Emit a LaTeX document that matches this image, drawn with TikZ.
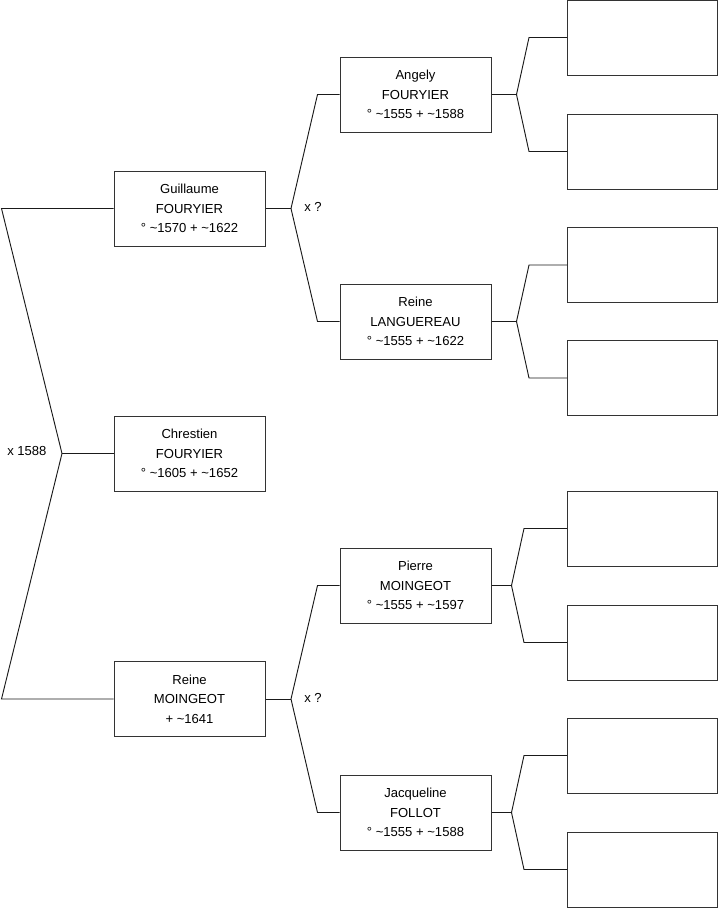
\documentclass[tikz,border=0pt]{standalone}
\usepackage{fontspec}
\setmainfont{Liberation Sans}
\usepackage{xcolor}
\usepackage{tikz}
\usetikzlibrary{positioning, calc}
\definecolor{ftLine}{HTML}{1A1A1A}
\definecolor{ftBox}{HTML}{333333}
\newcommand{\ca}{\textasciitilde}
\tikzset{
  person/.style={
    rectangle,
    draw=ftBox, line width=0.75pt,
    fill=white,
    inner sep=2pt,
    minimum width=113.25pt, minimum height=56.25pt,
    align=center,
    font=\fontsize{9.8}{14.6}\selectfont
  },
  emptybox/.style={
    person, minimum width=112.5pt
  },
  link/.style={
    ftLine, line width=0.7pt, line join=miter
  },
  union/.style={font=\fontsize{9.8}{11}\selectfont, inner sep=0pt}
}

\begin{document}
\begin{tikzpicture}[x=0.75pt, y=-0.75pt]
        \useasboundingbox (0,0) rectangle (719,908);
        % generation 1 and 2
        \node[person] (guil) at (189.5,208.5) {Guillaume\\FOURYIER\\° \ca1570 + \ca1622};
        \node[person] (chre) at (189.5,453.5) {Chrestien\\FOURYIER\\° \ca1605 + \ca1652};
        \node[person] (rmoi) at (189.5,699) {Reine\\MOINGEOT\\+ \ca1641};
        % generation 3
        \node[person] (ange) at (415.5,94.5) {Angely\\FOURYIER\\° \ca1555 + \ca1588};
        \node[person] (lang) at (415.5,321.5) {Reine\\LANGUEREAU\\° \ca1555 + \ca1622};
        \node[person] (pier) at (415.5,585.5) {Pierre\\MOINGEOT\\° \ca1555 + \ca1597};
        \node[person] (jacq) at (415.5,812.5) {Jacqueline\\FOLLOT\\° \ca1555 + \ca1588};
        % generation 4, unknown
        \foreach \n/\y in {1/37.5, 2/151.5, 3/265, 4/378, 5/528.5, 6/642.5, 7/755.5, 8/869.5}
          \node[emptybox] (e\n) at (642.5,\y) {};

        % couple of Chrestien
        \coordinate (f0) at (62,453.5);
        \draw[link] (guil.west) -- ++(-112,0) -- (f0) -- ($(rmoi.west)+(-112,0)$) -- (rmoi.west);
        \draw[link] (chre.west) -- (f0);
        \node[union, anchor=west] (u0) at (7,451) {x 1588};

        % couple of Guillaume
        \coordinate (fg) at (291,208.5);
        \draw[link] (guil.east) -- (fg);
        \draw[link] (ange.west) -- ++(-22,0) -- (fg) -- ($(lang.west)+(-22,0)$) -- (lang.west);
        \node[union, anchor=west] (ug) at (304,207) {x ?};

        % couple of Reine
        \coordinate (fr) at (291,699);
        \draw[link] (rmoi.east) -- (fr);
        \draw[link] (pier.west) -- ++(-22,0) -- (fr) -- ($(jacq.west)+(-22,0)$) -- (jacq.west);
        \node[union, anchor=west] (ur) at (304,698) {x ?};

        % parents of generation 3
        \foreach \p/\a/\b/\d/\s in {ange/e1/e2/25/38, lang/e3/e4/25/38, pier/e5/e6/20/43, jacq/e7/e8/20/43} {
          \draw[link] (\p.east) -- ++(\d,0) coordinate (f\p);
          \draw[link] (\a.west) -- ++(-\s,0) -- (f\p) -- ($(\b.west)+(-\s,0)$) -- (\b.west);
        }
      \end{tikzpicture}
\end{document}
